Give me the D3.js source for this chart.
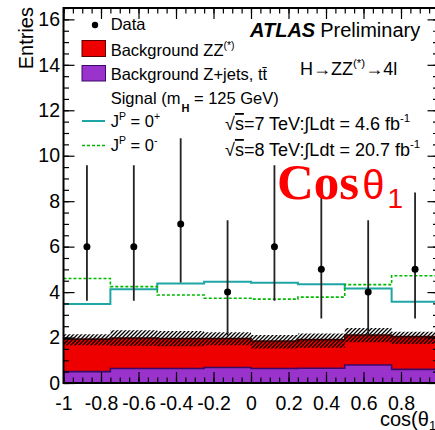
<!DOCTYPE html>
<html>
<head>
<meta charset="utf-8">
<script src="https://cdn.jsdelivr.net/npm/d3@7"></script>
<style>
  html, body { margin: 0; padding: 0; background: #fff; }
  svg { display: block; }
  text { font-family: "Liberation Sans", Arial, Helvetica, sans-serif; }
</style>
</head>
<body>
<svg id="chart" width="435" height="430"></svg>
<script>
// cos(theta_1) distribution, H -> ZZ(*) -> 4l, 8 bins over [-1, 1]
const binLow  = [-1, -0.75, -0.5, -0.25, 0, 0.25, 0.5, 0.75];
const binHigh = [-0.75, -0.5, -0.25, 0, 0.25, 0.5, 0.75, 1];

// observed events with asymmetric Poisson intervals
const dataCounts  = [6, 6, 7, 4, 6, 5, 4, 5];
const dataErrLow  = [3.62, 3.62, 4.42, 2.09, 3.62, 2.84, 2.09, 2.84];
const dataErrHigh = [9.58, 9.58, 10.77, 7.16, 9.58, 8.38, 7.16, 8.38];

// backgrounds (stacked: Z+jets at the bottom, ZZ(*) on top)
const bkgZjets = [0.50, 0.64, 0.64, 0.68, 0.64, 0.65, 0.79, 0.60];
const bkgZZ    = [1.43, 1.34, 1.32, 1.28, 1.21, 1.26, 1.32, 1.44];

// systematic band on the total background
const bandLow  = [1.66, 1.64, 1.62, 1.66, 1.52, 1.55, 1.79, 1.72];
const bandHigh = [2.14, 2.32, 2.29, 2.23, 2.11, 2.18, 2.42, 2.26];

// signal + background expectations for the two spin-parity hypotheses
const sig0plus  = [3.48, 4.12, 4.38, 4.46, 4.41, 4.34, 4.16, 3.58];
const sig0minus = [4.60, 4.24, 3.87, 3.73, 3.69, 3.78, 4.33, 4.72];

// axis ticks (the label at +1 falls outside the canvas, so it stays blank)
const xTickValues = [-1, -0.8, -0.6, -0.4, -0.2, 0, 0.2, 0.4, 0.6, 0.8, 1];
const xTickLabels = ["-1", "-0.8", "-0.6", "-0.4", "-0.2", "0", "0.2", "0.4", "0.6", "0.8", ""];
const yTickValues = [0, 2, 4, 6, 8, 10, 12, 14, 16];

const svg = d3.select("#chart");
svg.append("rect").attr("width", 435).attr("height", 430).attr("fill", "#fff");

const plot = { left: 63.5, right: 438.5, top: 8, bottom: 383 };
const x = d3.scaleLinear().domain([-1, 1]).range([plot.left, plot.right]);
const y = d3.scaleLinear().domain([0, 16.5]).range([plot.bottom, plot.top]);

const defs = svg.append("defs");
defs.append("clipPath").attr("id", "plotclip")
  .append("rect")
  .attr("x", plot.left).attr("y", plot.top)
  .attr("width", plot.right - plot.left).attr("height", plot.bottom - plot.top);

const hatch = defs.append("pattern").attr("id", "hatch")
  .attr("patternUnits", "userSpaceOnUse").attr("width", 4).attr("height", 4);
hatch.append("path")
  .attr("d", "M-1,1 l2,-2 M0,4 l4,-4 M3,5 l2,-2")
  .attr("stroke", "#000").attr("stroke-width", 1.3);

const g = svg.append("g").attr("clip-path", "url(#plotclip)");

// step helpers: one point per bin low edge + closing point at the last high edge
const stepPoints = vals => {
  const pts = vals.map((v, i) => ({ x: binLow[i], v }));
  pts.push({ x: binHigh[binHigh.length - 1], v: vals[vals.length - 1] });
  return pts;
};
const stepBand = (lo, hi) => {
  const pts = lo.map((v, i) => ({ x: binLow[i], lo: v, hi: hi[i] }));
  pts.push({ x: binHigh[binHigh.length - 1], lo: lo[lo.length - 1], hi: hi[hi.length - 1] });
  return pts;
};

// stacked backgrounds
const stackRows = binLow.map((b, i) => ({ zjets: bkgZjets[i], zz: bkgZZ[i] }));
const stacked = d3.stack().keys(["zjets", "zz"])(stackRows);
const layerColors = { zjets: "#9933cc", zz: "#ee0000" };
const layerLines  = { zjets: "#3a0a66", zz: "#5a0000" };

const area = d3.area().curve(d3.curveStepAfter)
  .x(d => x(d.x)).y0(d => y(d.lo)).y1(d => y(d.hi));
const line = d3.line().curve(d3.curveStepAfter)
  .x(d => x(d.x)).y(d => y(d.v));

stacked.forEach(layer => {
  const lo = layer.map(d => d[0]);
  const hi = layer.map(d => d[1]);
  g.append("path").datum(stepBand(lo, hi))
    .attr("d", area).attr("fill", layerColors[layer.key]);
});
stacked.forEach(layer => {
  g.append("path").datum(stepPoints(layer.map(d => d[1])))
    .attr("d", line).attr("fill", "none")
    .attr("stroke", layerLines[layer.key]).attr("stroke-width", 1.6);
});

// hatched uncertainty band
g.append("path").datum(stepBand(bandLow, bandHigh))
  .attr("d", area).attr("fill", "url(#hatch)");

// signal hypotheses
g.append("path").datum(stepPoints(sig0plus))
  .attr("d", line).attr("fill", "none")
  .attr("stroke", "#1ea5a5").attr("stroke-width", 2);
g.append("path").datum(stepPoints(sig0minus))
  .attr("d", line).attr("fill", "none")
  .attr("stroke", "#00b800").attr("stroke-width", 1.6)
  .attr("stroke-dasharray", "3,2");

// data with error bars
const centers = binLow.map((b, i) => (b + binHigh[i]) / 2);
const pts = g.append("g");
dataCounts.forEach((n, i) => {
  pts.append("line")
    .attr("x1", x(centers[i])).attr("x2", x(centers[i]))
    .attr("y1", y(dataErrLow[i])).attr("y2", y(dataErrHigh[i]))
    .attr("stroke", "#222").attr("stroke-width", 1.8);
  pts.append("circle")
    .attr("cx", x(centers[i])).attr("cy", y(n)).attr("r", 3.5)
    .attr("fill", "#000");
});

// axes: ticks drawn inward on all four sides
const tickFont = "19.5px";
const styleAxis = sel => {
  sel.select(".domain").remove();
  sel.selectAll(".tick line").attr("stroke", "#000").attr("stroke-width", 1.2);
};
svg.append("g").attr("transform", `translate(0,${plot.bottom})`)
  .call(d3.axisBottom(x).tickValues(x.ticks(40)).tickSize(-5.5).tickFormat(""))
  .call(styleAxis);
svg.append("g").attr("transform", `translate(0,${plot.bottom})`)
  .call(d3.axisBottom(x).tickValues(xTickValues).tickSize(-11).tickPadding(13)
    .tickFormat((v, i) => xTickLabels[i]))
  .call(styleAxis)
  .call(s => s.selectAll("text").attr("font-size", tickFont).attr("fill", "#000")
    .attr("font-family", "Liberation Sans, Arial, sans-serif"));
svg.append("g").attr("transform", `translate(0,${plot.top})`)
  .call(d3.axisTop(x).tickValues(x.ticks(40)).tickSize(-5.5).tickFormat(""))
  .call(styleAxis);
svg.append("g").attr("transform", `translate(0,${plot.top})`)
  .call(d3.axisTop(x).tickValues(xTickValues).tickSize(-11).tickFormat(""))
  .call(styleAxis);

svg.append("g").attr("transform", `translate(${plot.left},0)`)
  .call(d3.axisLeft(y).tickValues(y.ticks(33)).tickSize(-5.5).tickFormat(""))
  .call(styleAxis);
svg.append("g").attr("transform", `translate(${plot.left},0)`)
  .call(d3.axisLeft(y).tickValues(yTickValues).tickSize(-11).tickPadding(3.5)
    .tickFormat(v => String(v)))
  .call(styleAxis)
  .call(s => s.selectAll("text").attr("font-size", tickFont).attr("fill", "#000")
    .attr("font-family", "Liberation Sans, Arial, sans-serif"));
svg.append("g").attr("transform", `translate(${plot.right},0)`)
  .call(d3.axisRight(y).tickValues(y.ticks(33)).tickSize(-5.5).tickFormat(""))
  .call(styleAxis);
svg.append("g").attr("transform", `translate(${plot.right},0)`)
  .call(d3.axisRight(y).tickValues(yTickValues).tickSize(-11).tickFormat(""))
  .call(styleAxis);

// frame
svg.append("rect")
  .attr("x", plot.left).attr("y", plot.top)
  .attr("width", plot.right - plot.left).attr("height", plot.bottom - plot.top)
  .attr("fill", "none").attr("stroke", "#000").attr("stroke-width", 2);

// axis titles
svg.append("text")
  .attr("transform", "translate(33,7) rotate(-90)")
  .attr("text-anchor", "end").attr("font-size", "20px").text("Entries");
const xt = svg.append("text").attr("x", 380).attr("y", 426).attr("font-size", "20px");
xt.append("tspan").text("cos(θ");
xt.append("tspan").attr("font-size", "13px").attr("dy", 4).text("1");
xt.append("tspan").attr("dy", -4).text(")");

// legend
const lg = svg.append("g").attr("font-size", "16.5px");
lg.append("circle").attr("cx", 95).attr("cy", 25).attr("r", 3.2).attr("fill", "#000");
lg.append("text").attr("x", 110.7).attr("y", 30).text("Data");

lg.append("rect").attr("x", 82).attr("y", 40.5).attr("width", 23.5).attr("height", 16)
  .attr("fill", layerColors.zz).attr("stroke", layerLines.zz).attr("stroke-width", 1);
const t1 = lg.append("text").attr("x", 110.7).attr("y", 55.5);
t1.append("tspan").text("Background ZZ");
t1.append("tspan").attr("font-size", "10.5px").attr("dy", -7).text("(*)");

lg.append("rect").attr("x", 82).attr("y", 65.5).attr("width", 23.5).attr("height", 15.5)
  .attr("fill", layerColors.zjets).attr("stroke", layerLines.zjets).attr("stroke-width", 1);
lg.append("text").attr("x", 110.7).attr("y", 80).text("Background Z+jets, tt\u0304");

const t3 = lg.append("text").attr("x", 110.7).attr("y", 103.5);
t3.append("tspan").text("Signal (m");
t3.append("tspan").attr("font-size", "11px").attr("font-weight", "bold").attr("dy", 8).attr("dx", 1).text("H");
t3.append("tspan").attr("dy", -8).text(" = 125 GeV)");

lg.append("line").attr("x1", 82).attr("x2", 105).attr("y1", 121).attr("y2", 121)
  .attr("stroke", "#1ea5a5").attr("stroke-width", 2);
const t4 = lg.append("text").attr("x", 110.7).attr("y", 126.5);
t4.append("tspan").text("J");
t4.append("tspan").attr("font-size", "10.5px").attr("dy", -7).text("P");
t4.append("tspan").attr("dy", 7).text(" = 0");
t4.append("tspan").attr("font-size", "10.5px").attr("dy", -7).text("+");

lg.append("line").attr("x1", 82).attr("x2", 105).attr("y1", 145.5).attr("y2", 145.5)
  .attr("stroke", "#00b800").attr("stroke-width", 1.6).attr("stroke-dasharray", "3,2");
const t5 = lg.append("text").attr("x", 110.7).attr("y", 150.5);
t5.append("tspan").text("J");
t5.append("tspan").attr("font-size", "10.5px").attr("dy", -7).text("P");
t5.append("tspan").attr("dy", 7).text(" = 0");
t5.append("tspan").attr("font-size", "10.5px").attr("dy", -7).text("-");

// experiment label and luminosity
const at = svg.append("text").attr("x", 250).attr("y", 37).attr("font-size", "20px");
at.append("tspan").attr("font-weight", "bold").attr("font-style", "italic").text("ATLAS");
at.append("tspan").attr("dx", 5).text("Preliminary");

const hz = svg.append("text").attr("x", 300).attr("y", 75).attr("font-size", "18px");
hz.append("tspan").text("H→ZZ");
hz.append("tspan").attr("font-size", "11.5px").attr("dy", -8).text("(*)");
hz.append("tspan").attr("dy", 8).text("→4l");

[["7", "4.6", 130], ["8", "20.7", 156]].forEach(([e, l, yy]) => {
  const t = svg.append("text").attr("x", 225).attr("y", yy).attr("font-size", "18px");
  t.append("tspan").text("√");
  t.append("tspan").style("text-decoration", "overline").text("s");
  t.append("tspan").text(`=${e} TeV:∫Ldt = ${l} fb`);
  t.append("tspan").attr("font-size", "11.5px").attr("dy", -8).text("-1");
});

// variable name
const cv = svg.append("text").attr("x", 277).attr("y", 199).attr("fill", "#ff0000");
cv.append("tspan").attr("font-family", "Liberation Serif, Times New Roman, serif")
  .attr("font-weight", "bold").attr("font-size", "51px").text("Cos");
cv.append("tspan").attr("font-size", "40px").attr("dx", 3).text("θ");
cv.append("tspan").attr("font-size", "28px").attr("dy", 8.5).attr("dx", 3).text("1");
</script>
</body>
</html>
